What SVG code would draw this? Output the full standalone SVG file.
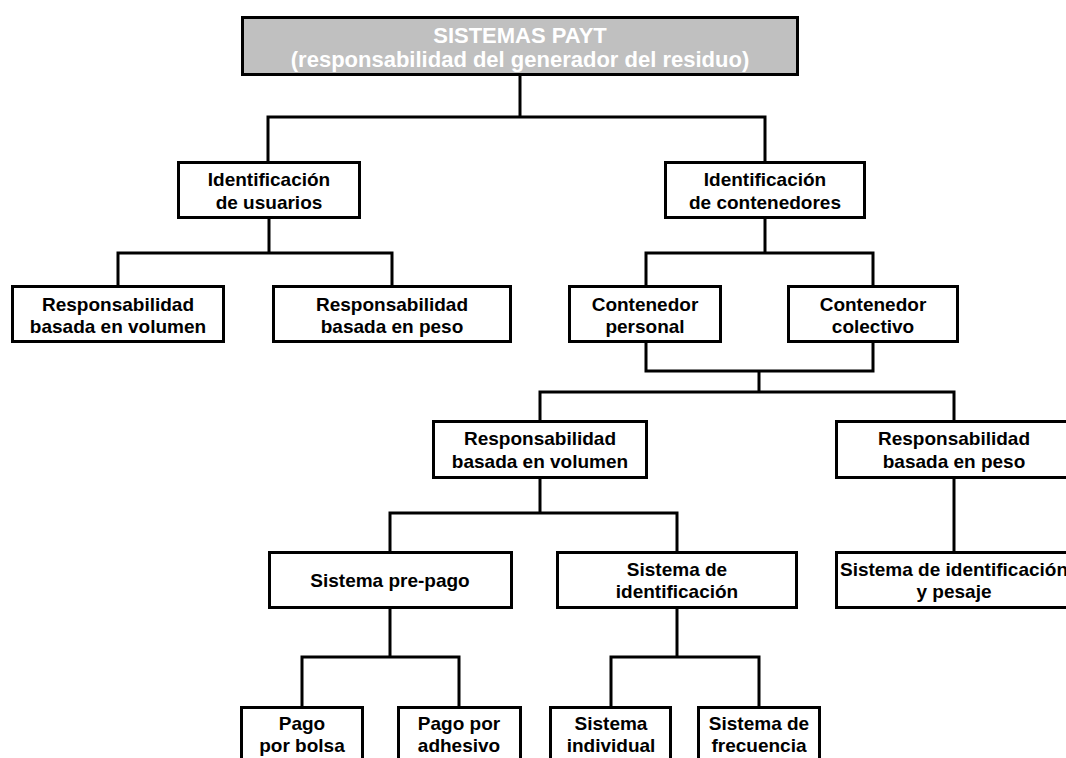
<svg xmlns="http://www.w3.org/2000/svg" width="1066" height="758" viewBox="0 0 1066 758">
  <style>
    .box { fill: #ffffff; stroke: #000000; stroke-width: 3; }
    .root { fill: #c0c0c0; stroke: #000000; stroke-width: 3; }
    .lbl { font-family: "Liberation Sans", Arial, sans-serif; font-weight: bold; font-size: 19px; fill: #000000; text-anchor: middle; }
    .head { font-family: "Liberation Sans", Arial, sans-serif; font-weight: bold; font-size: 22px; fill: #ffffff; text-anchor: middle; }
    .wire { fill: none; stroke: #000000; stroke-width: 3; stroke-linejoin: miter; }
  </style>

  <!-- tree connectors -->
  <g id="connectors">
    <path class="wire" d="M520,76 V117"/>
    <path class="wire" d="M268,161 V117 H765 V161"/>
    <path class="wire" d="M269,219 V253"/>
    <path class="wire" d="M118,285 V253 H392 V285"/>
    <path class="wire" d="M765,219 V253"/>
    <path class="wire" d="M646,285 V253 H873 V285"/>
    <path class="wire" d="M646,343 V371 H873 V343"/>
    <path class="wire" d="M759,371 V392"/>
    <path class="wire" d="M540,420 V392 H954 V420"/>
    <path class="wire" d="M540,479 V513"/>
    <path class="wire" d="M390,551 V513 H677 V551"/>
    <path class="wire" d="M954,479 V551"/>
    <path class="wire" d="M390,609 V657"/>
    <path class="wire" d="M302,706 V657 H459 V706"/>
    <path class="wire" d="M677,609 V657"/>
    <path class="wire" d="M611,706 V657 H759 V706"/>
  </g>

  <g id="payt">
    <rect class="root" x="242.5" y="17.5" width="555" height="57"/>
    <text class="head" x="520" y="43">SISTEMAS PAYT</text>
    <text class="head" x="520" y="67">(responsabilidad del generador del residuo)</text>
  </g>

  <g id="id-usuarios">
    <rect class="box" x="178.5" y="162.5" width="181" height="55"/>
    <text class="lbl" x="269" y="186">Identificación</text>
    <text class="lbl" x="269" y="209">de usuarios</text>
  </g>

  <g id="id-contenedores">
    <rect class="box" x="665.5" y="162.5" width="199" height="55"/>
    <text class="lbl" x="765" y="186">Identificación</text>
    <text class="lbl" x="765" y="209">de contenedores</text>
  </g>

  <g id="usr-volumen">
    <rect class="box" x="12.5" y="286.5" width="211" height="55"/>
    <text class="lbl" x="118" y="311">Responsabilidad</text>
    <text class="lbl" x="118" y="333">basada en volumen</text>
  </g>

  <g id="usr-peso">
    <rect class="box" x="273.5" y="286.5" width="237" height="55"/>
    <text class="lbl" x="392" y="311">Responsabilidad</text>
    <text class="lbl" x="392" y="333">basada en peso</text>
  </g>

  <g id="cont-personal">
    <rect class="box" x="569.5" y="286.5" width="151" height="55"/>
    <text class="lbl" x="645" y="311">Contenedor</text>
    <text class="lbl" x="645" y="333">personal</text>
  </g>

  <g id="cont-colectivo">
    <rect class="box" x="788.5" y="286.5" width="169" height="55"/>
    <text class="lbl" x="873" y="311">Contenedor</text>
    <text class="lbl" x="873" y="333">colectivo</text>
  </g>

  <g id="cont-volumen">
    <rect class="box" x="433.5" y="421.5" width="213" height="56"/>
    <text class="lbl" x="540" y="445">Responsabilidad</text>
    <text class="lbl" x="540" y="468">basada en volumen</text>
  </g>

  <g id="cont-peso">
    <rect class="box" x="836.5" y="421.5" width="236" height="56"/>
    <text class="lbl" x="954" y="445">Responsabilidad</text>
    <text class="lbl" x="954" y="468">basada en peso</text>
  </g>

  <g id="pre-pago">
    <rect class="box" x="269.5" y="552.5" width="242" height="55"/>
    <text class="lbl" x="390" y="587">Sistema pre-pago</text>
  </g>

  <g id="sis-identificacion">
    <rect class="box" x="557.5" y="552.5" width="239" height="55"/>
    <text class="lbl" x="677" y="576">Sistema de</text>
    <text class="lbl" x="677" y="598">identificación</text>
  </g>

  <g id="sis-pesaje">
    <rect class="box" x="836.5" y="552.5" width="236" height="55"/>
    <text class="lbl" x="954" y="576">Sistema de identificación</text>
    <text class="lbl" x="954" y="598">y pesaje</text>
  </g>

  <g id="pago-bolsa">
    <rect class="box" x="241.5" y="707.5" width="121" height="70"/>
    <text class="lbl" x="302" y="730">Pago</text>
    <text class="lbl" x="302" y="752">por bolsa</text>
  </g>

  <g id="pago-adhesivo">
    <rect class="box" x="398.5" y="707.5" width="122" height="70"/>
    <text class="lbl" x="459" y="730">Pago por</text>
    <text class="lbl" x="459" y="752">adhesivo</text>
  </g>

  <g id="sis-individual">
    <rect class="box" x="550.5" y="707.5" width="120" height="70"/>
    <text class="lbl" x="611" y="730">Sistema</text>
    <text class="lbl" x="611" y="752">individual</text>
  </g>

  <g id="sis-frecuencia">
    <rect class="box" x="698.5" y="707.5" width="121" height="70"/>
    <text class="lbl" x="759" y="730">Sistema de</text>
    <text class="lbl" x="759" y="752">frecuencia</text>
  </g>
</svg>
